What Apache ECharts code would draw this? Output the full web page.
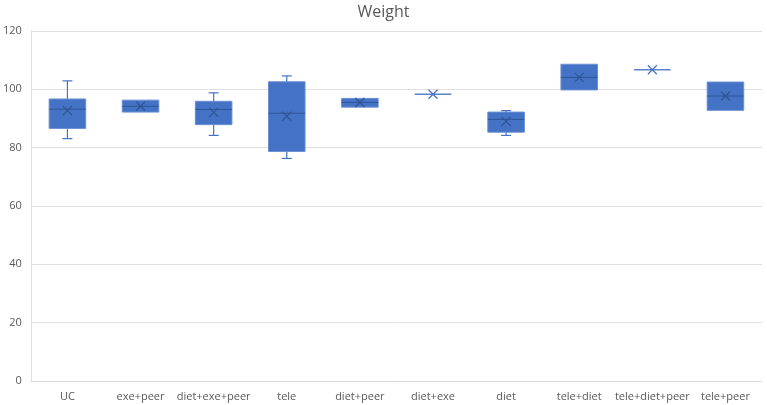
<!DOCTYPE html>
<html>
<head>
<meta charset="utf-8">
<script src="https://cdn.jsdelivr.net/npm/echarts@6/dist/echarts.min.js"></script>
<style>
  html, body { margin: 0; padding: 0; background: #fff; }
  #chart { width: 767px; height: 405px; }
</style>
</head>
<body>
<div id="chart"></div>
<script>
// groups
const categories = ['UC', 'exe+peer', 'diet+exe+peer', 'tele', 'diet+peer', 'diet+exe', 'diet', 'tele+diet', 'tele+diet+peer', 'tele+peer'];
// box plot stats
const minV  = [83.1, 92.2, 84.2, 76.3, 93.9, 98.3, 84.2, 99.8, 106.7, 92.8];
const q1V   = [86.6, 92.2, 87.9, 78.7, 93.9, 98.3, 85.3, 99.8, 106.7, 92.8];
const medV  = [93.2, 94.2, 93.1, 91.8, 95.5, 98.3, 89.7, 104.1, 106.7, 97.7];
const q3V   = [96.7, 96.3, 95.9, 102.6, 96.9, 98.3, 92.2, 108.6, 106.7, 102.5];
const maxV  = [102.9, 96.3, 98.8, 104.6, 96.9, 98.3, 92.7, 108.6, 106.7, 102.5];
const meanV = [92.7, 94.2, 92.1, 90.8, 95.5, 98.3, 89.0, 104.1, 106.7, 97.7];
const yTicks = [0, 20, 40, 60, 80, 100, 120];

const boxColor = '#4472C4';
const darkBlue = '#2F5597';

const data = categories.map((c, i) => [i, minV[i], q1V[i], medV[i], q3V[i], maxV[i], meanV[i]]);

const chart = echarts.init(document.getElementById('chart'));

function renderBox(params, api) {
  const i = api.value(0);
  const pMin = api.coord([i, api.value(1)]);
  const pQ1 = api.coord([i, api.value(2)]);
  const pMed = api.coord([i, api.value(3)]);
  const pQ3 = api.coord([i, api.value(4)]);
  const pMax = api.coord([i, api.value(5)]);
  const pMean = api.coord([i, api.value(6)]);
  const band = api.size([1, 0])[0];
  const half = band * 0.25;
  const cap = 5;
  const x = pMed[0];
  const kids = [];
  const lineStyle = { stroke: boxColor, lineWidth: 1.2 };

  // 鬚線
  if (pMax[1] < pQ3[1]) {
    kids.push({ type: 'line', shape: { x1: x, y1: pMax[1], x2: x, y2: pQ3[1] }, style: lineStyle });
    kids.push({ type: 'line', shape: { x1: x - cap, y1: pMax[1], x2: x + cap, y2: pMax[1] }, style: lineStyle });
  }
  if (pMin[1] > pQ1[1]) {
    kids.push({ type: 'line', shape: { x1: x, y1: pQ1[1], x2: x, y2: pMin[1] }, style: lineStyle });
    kids.push({ type: 'line', shape: { x1: x - cap, y1: pMin[1], x2: x + cap, y2: pMin[1] }, style: lineStyle });
  }
  // 箱體
  const h = pQ1[1] - pQ3[1];
  if (h > 0.5) {
    kids.push({
      type: 'rect',
      shape: { x: x - half, y: pQ3[1], width: half * 2, height: h },
      style: { fill: boxColor, stroke: '#6A8FD3', lineWidth: 1 }
    });
    kids.push({ type: 'line', shape: { x1: x - half, y1: pMed[1], x2: x + half, y2: pMed[1] }, style: { stroke: darkBlue, lineWidth: 1 } });
  } else {
    kids.push({ type: 'line', shape: { x1: x - half, y1: pMed[1], x2: x + half, y2: pMed[1] }, style: { stroke: '#5B82CC', lineWidth: 1.5 } });
  }
  // 平均值 X
  const s = 4.5;
  const xColor = h > 0.5 ? darkBlue : '#4472C4';
  kids.push({ type: 'line', shape: { x1: x - s, y1: pMean[1] - s, x2: x + s, y2: pMean[1] + s }, style: { stroke: xColor, lineWidth: 1.2 } });
  kids.push({ type: 'line', shape: { x1: x - s, y1: pMean[1] + s, x2: x + s, y2: pMean[1] - s }, style: { stroke: xColor, lineWidth: 1.2 } });

  return { type: 'group', children: kids };
}

const option = {
  backgroundColor: '#fff',
  animation: false,
  title: {
    text: 'Weight',
    left: 'center',
    top: -1,
    textStyle: { fontFamily: 'Open Sans', fontSize: 16, fontWeight: 'normal', color: '#595959' }
  },
  grid: { left: 27, right: 5, top: 31, bottom: 24 },
  xAxis: {
    type: 'category',
    data: categories,
    axisLine: { show: true, lineStyle: { color: '#D9D9D9' } },
    axisTick: { show: false },
    axisLabel: { color: '#595959', fontSize: 11, fontFamily: 'Open Sans', margin: 10, interval: 0 }
  },
  yAxis: {
    type: 'value',
    min: yTicks[0],
    max: yTicks[yTicks.length - 1],
    interval: 20,
    axisLine: { show: true, lineStyle: { color: '#E0E0E0' } },
    axisTick: { show: false },
    splitLine: { lineStyle: { color: '#E0E0E0' } },
    axisLabel: { color: '#595959', fontSize: 11, fontFamily: 'Open Sans', margin: 9 }
  },
  series: [{
    type: 'custom',
    renderItem: renderBox,
    encode: { x: 0, y: [1, 2, 3, 4, 5, 6] },
    data: data
  }]
};

chart.setOption(option);
</script>
</body>
</html>
